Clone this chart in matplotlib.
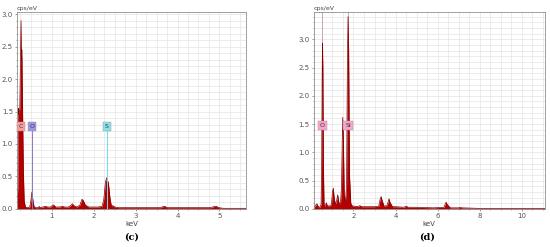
import matplotlib
matplotlib.use('Agg')
import matplotlib.pyplot as plt
from matplotlib.ticker import MultipleLocator

# spectrum (c): energy in keV, intensity in cps/eV
kev_c = [0.17, 0.19, 0.205, 0.22, 0.235, 0.25, 0.265, 0.275, 0.285, 0.30, 0.32,
         0.34, 0.37, 0.42, 0.47, 0.49, 0.525, 0.555, 0.58, 0.62, 0.68, 0.70, 0.72,
         0.78, 0.85, 0.90, 0.97, 1.02, 1.05, 1.09, 1.18, 1.25, 1.31, 1.40, 1.46,
         1.49, 1.53, 1.60, 1.67, 1.72, 1.75, 1.80, 1.88, 2.00, 2.10, 2.20, 2.24,
         2.28, 2.31, 2.35, 2.39, 2.42, 2.46, 2.50, 2.60, 2.80, 3.00, 3.30, 3.60,
         3.66, 3.70, 3.75, 4.00, 4.40, 4.80, 4.88, 4.93, 4.98, 5.10, 5.40, 5.63]
cps_c = [0.10, 0.35, 1.55, 1.45, 1.55, 2.20, 2.90, 2.30, 2.45, 1.60, 0.60,
         0.12, 0.03, 0.02, 0.03, 0.08, 0.26, 0.10, 0.03, 0.02, 0.02, 0.04, 0.02,
         0.03, 0.04, 0.03, 0.03, 0.06, 0.06, 0.03, 0.03, 0.04, 0.03, 0.03, 0.06,
         0.08, 0.05, 0.03, 0.06, 0.15, 0.13, 0.06, 0.03, 0.03, 0.03, 0.04, 0.15,
         0.42, 0.48, 0.40, 0.15, 0.05, 0.05, 0.03, 0.02, 0.02, 0.02, 0.02, 0.02,
         0.04, 0.04, 0.02, 0.02, 0.02, 0.02, 0.04, 0.04, 0.02, 0.01, 0.01, 0.01]

# spectrum (d)
kev_d = [0.10, 0.20, 0.25, 0.28, 0.32, 0.40, 0.46, 0.49, 0.51, 0.525, 0.545,
         0.57, 0.60, 0.63, 0.68, 0.71, 0.75, 0.85, 0.95, 1.00, 1.04, 1.08, 1.14,
         1.20, 1.25, 1.30, 1.38, 1.43, 1.47, 1.49, 1.52, 1.56, 1.61, 1.67, 1.71,
         1.74, 1.77, 1.81, 1.87, 1.95, 2.05, 2.20, 2.30, 2.40, 2.60, 3.00, 3.20,
         3.27, 3.31, 3.36, 3.45, 3.60, 3.66, 3.69, 3.73, 3.85, 4.00, 4.40, 4.50,
         4.60, 5.00, 5.80, 6.30, 6.37, 6.40, 6.45, 6.60, 7.00, 7.05, 7.15, 8.00,
         9.00, 10.00, 11.10]
cps_d = [0.03, 0.06, 0.09, 0.08, 0.04, 0.03, 0.08, 0.90, 2.30, 2.93, 2.50,
         0.80, 0.08, 0.05, 0.08, 0.11, 0.06, 0.05, 0.08, 0.30, 0.37, 0.20, 0.08,
         0.15, 0.25, 0.12, 0.08, 0.40, 1.30, 1.62, 1.20, 0.25, 0.10, 0.40, 2.60,
         3.40, 2.80, 0.60, 0.10, 0.05, 0.05, 0.04, 0.06, 0.04, 0.04, 0.04, 0.05,
         0.18, 0.22, 0.15, 0.05, 0.06, 0.15, 0.18, 0.12, 0.04, 0.04, 0.03, 0.05,
         0.03, 0.03, 0.02, 0.03, 0.10, 0.12, 0.08, 0.02, 0.02, 0.03, 0.02, 0.01,
         0.01, 0.01, 0.01]

labels_c = ['C', 'O', 'S']
label_kev_c = [0.265, 0.525, 2.31]
label_col_c = ['#f2a0a0', '#9898e8', '#80e6e6']
line_col_c = [None, '#8080c0', '#70dcea']

labels_d = ['O', 'Si']
label_kev_d = [0.525, 1.74]
label_col_d = ['#f4a6cc', '#f4a6cc']

fig = plt.figure(figsize=(5.5, 2.47), dpi=100)
ax1 = fig.add_axes([0.031, 0.154, 0.416, 0.797])
ax2 = fig.add_axes([0.570, 0.154, 0.421, 0.797])

fill_col = '#b40000'
edge_col = '#800000'


def style(ax, xlim, ylim, xmaj, xmin):
    ax.set_xlim(*xlim)
    ax.set_ylim(*ylim)
    ax.xaxis.set_major_locator(MultipleLocator(xmaj))
    ax.xaxis.set_minor_locator(MultipleLocator(xmin))
    ax.yaxis.set_major_locator(MultipleLocator(0.5))
    ax.yaxis.set_minor_locator(MultipleLocator(0.1))
    ax.grid(which='both', color='#e4e4e4', lw=0.5)
    ax.set_axisbelow(True)
    ax.tick_params(which='both', labelsize=5, colors='#555555', length=1.5,
                   width=0.4, pad=1.5)
    ax.tick_params(which='minor', length=1)
    for s in ax.spines.values():
        s.set_color('#909090')
        s.set_linewidth(0.6)
    ax.set_xlabel('keV', fontsize=5, color='#444444', labelpad=1)
    ax.text(0.0, 1.005, 'cps/eV', transform=ax.transAxes, fontsize=4.5,
            color='#444444', va='bottom', ha='left')


style(ax1, (0.17, 5.63), (0, 3.03), 1, 0.25)
style(ax2, (0.1, 11.1), (0, 3.48), 2, 0.5)

# element marker lines and labels
for k, col in zip(label_kev_c, line_col_c):
    if col:
        ax1.plot([k, k], [0, 1.22], color=col, lw=0.7, zorder=3)
for k in label_kev_d:
    ax2.axvline(k, color='#b8a0a8', lw=0.6, zorder=1)

ax1.fill_between(kev_c, cps_c, color=fill_col, lw=0, zorder=2)
ax1.plot(kev_c, cps_c, color=edge_col, lw=0.5, zorder=2)
ax2.fill_between(kev_d, cps_d, color=fill_col, lw=0, zorder=2)
ax2.plot(kev_d, cps_d, color=edge_col, lw=0.5, zorder=2)

for lab, k, col in zip(labels_c, label_kev_c, label_col_c):
    ax1.text(k, 1.27, lab, fontsize=4.5, ha='center', va='center', color='#333366',
             zorder=4, bbox=dict(boxstyle='square,pad=0.3', fc=col, ec='#c08080', lw=0.3))
for lab, k, col in zip(labels_d, label_kev_d, label_col_d):
    ax2.text(k, 1.47, lab, fontsize=4.5, ha='center', va='center', color='#333333',
             zorder=4, bbox=dict(boxstyle='square,pad=0.3', fc=col, ec='#c080a0', lw=0.3))

fig.text(0.239, 0.04, '(c)', fontsize=7, fontweight='bold', family='DejaVu Serif',
         ha='center', va='center')
fig.text(0.776, 0.04, '(d)', fontsize=7, fontweight='bold', family='DejaVu Serif',
         ha='center', va='center')

fig.savefig('out.png', dpi=100)
